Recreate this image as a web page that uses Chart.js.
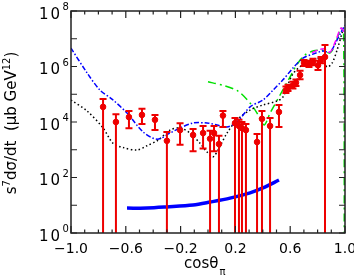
<!DOCTYPE html>
<html>
<head>
<meta charset="utf-8">
<script src="https://cdn.jsdelivr.net/npm/chart.js@4"></script>
<style>
  body { margin: 0; background: #fff; }
  canvas { display: block; }
</style>
</head>
<body>
<canvas id="chart" width="354" height="277"></canvas>
<script>
// measured cross sections (red points) with error bar ends
var cosTheta   = [-0.766, -0.672, -0.577, -0.482, -0.387, -0.30, -0.204, -0.109, -0.036, 0.015, 0.044, 0.080, 0.109,
                  0.197, 0.226, 0.248, 0.277, 0.358, 0.394, 0.453, 0.518, 0.569, 0.584, 0.620, 0.642, 0.672,
                  0.701, 0.737, 0.766, 0.803, 0.825, 0.854];
var sigma      = [3.5e4, 1.0e4, 1.5e4, 1.8e4, 1.2e4, 2.1e3, 5.1e3, 3.4e3, 4.0e3, 2.5e3, 4.0e3, 1.6e3, 1.7e4,
                  9.1e3, 7.2e3, 6.0e3, 5.1e3, 1.9e3, 1.3e4, 7.2e3, 2.3e4, 1.4e5, 1.7e5, 2.1e5, 2.6e5, 4.9e5,
                  1.35e6, 1.2e6, 1.45e6, 1.1e6, 1.7e6, 2.2e6];
var sigmaHigh  = [6.8e4, 1.9e4, 2.5e4, 3.0e4, 1.8e4, 4.4e3, 9.1e3, 5.6e3, 7.2e3, 4.8e3, 7.2e3, 3.2e3, 2.5e4,
                  1.4e4, 1.2e4, 1.0e4, 8.5e3, 3.7e3, 2.5e4, 1.4e4, 4.1e4, 1.9e5, 2.2e5, 2.8e5, 3.4e5, 7.0e5,
                  1.7e6, 1.6e6, 1.9e6, 1.6e6, 2.2e6, 5.9e6];
var sigmaLow   = [0.1, 0.1, 6.0e3, 8.5e3, 5.1e3, 0.1, 1.5e3, 8.9e2, 1.1e3, 0.1, 8.9e2, 0.1, 6.6e3,
                  0.1, 0.1, 0.1, 0.1, 0.1, 0.1, 0.1, 6.6e3, 1.1e5, 1.3e5, 1.6e5, 2.0e5, 3.5e5,
                  1.05e6, 9.5e5, 1.1e6, 7.5e5, 1.3e6, 0.1];

// model curves
var dashDotX = [-1.0, -0.883, -0.788, -0.701, -0.591, -0.474, -0.372, -0.277, -0.204, -0.109, -0.007, 0.066, 0.139,
                0.212, 0.307, 0.401, 0.474, 0.547, 0.620, 0.693, 0.766, 0.839, 0.891, 0.934, 0.971, 1.0];
var dashDotY = [4.6e6, 5.9e5, 1.4e5, 6.7e4, 2.1e4, 4.4e3, 2.4e3, 4.0e3, 6.1e3, 9.2e3, 9.2e3, 7.8e3, 6.6e3,
                1.0e4, 3.5e4, 6.2e4, 1.4e5, 3.3e5, 8.8e5, 2.0e6, 2.8e6, 3.6e6, 3.3e6, 7.6e6, 1.7e7, 3.1e7];

var dottedX = [-1.0, -0.883, -0.766, -0.693, -0.620, -0.518, -0.445, -0.365, -0.277, -0.204, -0.131, -0.058, -0.007,
               0.036, 0.073, 0.139, 0.212, 0.307, 0.401, 0.504, 0.547, 0.620, 0.723, 0.796, 0.839, 0.869, 0.905,
               0.942, 0.985];
var dottedY = [6.2e4, 2.5e4, 6.1e3, 1.7e3, 1.2e3, 9.8e2, 1.4e3, 2.2e3, 5.1e3, 6.1e3, 4.0e3, 1.7e3, 8.3e2,
               5.5e2, 9.8e2, 4.0e3, 1.2e4, 2.7e4, 4.1e4, 5.7e4, 7.9e4, 5.4e5, 1.5e6, 2.0e6, 1.7e6, 9.6e5, 1.3e6,
               3.9e6, 2.1e7];

var greenX = [0.0, 0.109, 0.219, 0.307, 0.358, 0.409, 0.453, 0.526, 0.599, 0.650, 0.708, 0.766, 0.832, 0.891,
              0.934, 0.971, 0.990, 0.995];
var greenY = [2.8e5, 2.1e5, 1.3e5, 4.8e4, 2.1e4, 7.8e3, 2.1e4, 9.4e4, 4.2e5, 1.2e6, 2.6e6, 3.6e6, 3.9e6, 3.1e6,
              7.6e6, 2.4e7, 1.4e7, 0.01];

var magentaX = [0.759, 0.803, 0.847, 0.891, 0.934, 0.971, 1.0];
var magentaY = [3.1e6, 3.9e6, 4.3e6, 3.3e6, 9.0e6, 2.4e7, 1.6e7];

var thickX = [-0.591, -0.445, -0.299, -0.109, 0.015, 0.161, 0.307, 0.401, 0.518];
var thickY = [7.9, 7.9, 8.7, 10.2, 13, 18, 28, 42, 81];

// axis ticks
var xMajorTicks = [-1.0, -0.6, -0.2, 0.2, 0.6, 1.0];
var xTickLabels = ['\u22121.0', '\u22120.6', '\u22120.2', '0.2', '0.6', '1.0'];
var yTickPowers = [0, 1, 2, 3, 4, 5, 6, 7, 8];
var yLabelPowers = [0, 2, 4, 6, 8];

function pairs(xs, ys) {
  return xs.map(function(x, i) { return {x: x, y: ys[i]}; });
}

function lineSet(xs, ys, color, width, dash) {
  return {
    data: pairs(xs, ys),
    showLine: true,
    borderColor: color,
    borderWidth: width,
    borderDash: dash,
    pointRadius: 0,
    fill: false,
    tension: 0.3
  };
}

var frame = {
  id: 'frame',
  afterDatasetsDraw: function(chart) {
    var ctx = chart.ctx;
    var xs = chart.scales.x, ys = chart.scales.y;
    var a = chart.chartArea;
    // error bars
    ctx.save();
    ctx.beginPath();
    ctx.rect(a.left, a.top, a.right - a.left, a.bottom - a.top);
    ctx.clip();
    ctx.strokeStyle = '#ee0000';
    ctx.lineWidth = 2;
    for (var i = 0; i < cosTheta.length; i++) {
      var px = xs.getPixelForValue(cosTheta[i]);
      var top = ys.getPixelForValue(sigmaHigh[i]);
      var bot = ys.getPixelForValue(sigmaLow[i]);
      ctx.beginPath();
      ctx.moveTo(px, top); ctx.lineTo(px, bot);
      ctx.moveTo(px - 3.5, top); ctx.lineTo(px + 3.5, top);
      ctx.moveTo(px - 3.5, bot); ctx.lineTo(px + 3.5, bot);
      ctx.stroke();
    }
    ctx.restore();
  },
  afterDraw: function(chart) {
    var ctx = chart.ctx;
    var xs = chart.scales.x, ys = chart.scales.y;
    var a = chart.chartArea;
    ctx.save();
    ctx.strokeStyle = '#222';
    ctx.lineWidth = 1.5;
    ctx.strokeRect(a.left, a.top, a.right - a.left, a.bottom - a.top);

    // x ticks, inward top and bottom
    ctx.lineWidth = 1.2;
    ctx.beginPath();
    for (var k = -10; k <= 10; k++) {
      var v = k / 10;
      var px = xs.getPixelForValue(v);
      var len = (Math.abs((k + 10) % 4) === 0) ? 7 : 3.5;
      ctx.moveTo(px, a.bottom); ctx.lineTo(px, a.bottom - len);
      ctx.moveTo(px, a.top); ctx.lineTo(px, a.top + len);
    }
    yTickPowers.forEach(function(p) {
      var py = ys.getPixelForValue(Math.pow(10, p));
      ctx.moveTo(a.left, py); ctx.lineTo(a.left + 6, py);
      ctx.moveTo(a.right, py); ctx.lineTo(a.right - 6, py);
    });
    ctx.stroke();

    ctx.fillStyle = '#000';
    ctx.font = '14px "DejaVu Sans"';
    ctx.textAlign = 'center';
    ctx.textBaseline = 'alphabetic';
    xMajorTicks.forEach(function(v, i) {
      ctx.fillText(xTickLabels[i], xs.getPixelForValue(v), 253);
    });

    // y labels 10^n
    yLabelPowers.forEach(function(p) {
      var py = ys.getPixelForValue(Math.pow(10, p));
      ctx.font = '15px "DejaVu Sans"';
      ctx.letterSpacing = '2px';
      ctx.textAlign = 'right';
      ctx.fillText('10', 62, py + 7.5);
      ctx.letterSpacing = '0px';
      ctx.font = '10px "DejaVu Sans"';
      ctx.textAlign = 'left';
      ctx.fillText(String(p), 62.5, py - 1);
    });

    // x title
    ctx.font = '15px "DejaVu Sans"';
    ctx.textAlign = 'left';
    ctx.fillText('cos\u03b8', 184, 268);
    var w = ctx.measureText('cos\u03b8').width;
    ctx.font = '10px "DejaVu Sans"';
    ctx.fillText('\u03c0', 184 + w + 1, 275);

    // y title
    var runs = [['s', 0], ['7', 1], ['d\u03c3/dt  (\u03bcb GeV', 0], ['12', 1], [')', 0]];
    var total = 0;
    runs.forEach(function(r) {
      ctx.font = r[1] ? '10px "DejaVu Sans"' : '15px "DejaVu Sans"';
      total += ctx.measureText(r[0]).width;
    });
    ctx.translate(16, 123);
    ctx.rotate(-Math.PI / 2);
    var xpos = -total / 2;
    runs.forEach(function(r) {
      ctx.font = r[1] ? '10px "DejaVu Sans"' : '15px "DejaVu Sans"';
      ctx.fillText(r[0], xpos, r[1] ? -6 : 0);
      xpos += ctx.measureText(r[0]).width;
    });
    ctx.restore();
  }
};

new Chart(document.getElementById('chart'), {
  type: 'scatter',
  data: {
    datasets: [
      {
        data: pairs(cosTheta, sigma),
        backgroundColor: '#ee0000',
        borderColor: '#ee0000',
        pointRadius: 2.8,
        showLine: false
      },
      lineSet(magentaX, magentaY, '#ff00ff', 1.5, [6, 3]),
      lineSet(dashDotX, dashDotY, '#0000ff', 1.5, [5, 2, 1.5, 2]),
      lineSet(dottedX, dottedY, '#000000', 1.5, [1.5, 2.5]),
      lineSet(greenX, greenY, '#00e000', 1.5, [8, 4, 2, 4]),
      lineSet(thickX, thickY, '#0000ff', 3.5, [])
    ]
  },
  options: {
    responsive: false,
    animation: false,
    layout: { padding: { left: 71, right: 9, top: 11, bottom: 44 } },
    plugins: { legend: { display: false }, tooltip: { enabled: false } },
    scales: {
      x: { type: 'linear', min: -1, max: 1, display: false },
      y: { type: 'logarithmic', min: 1, max: 1e8, display: false }
    }
  },
  plugins: [frame]
});
</script>
</body>
</html>
